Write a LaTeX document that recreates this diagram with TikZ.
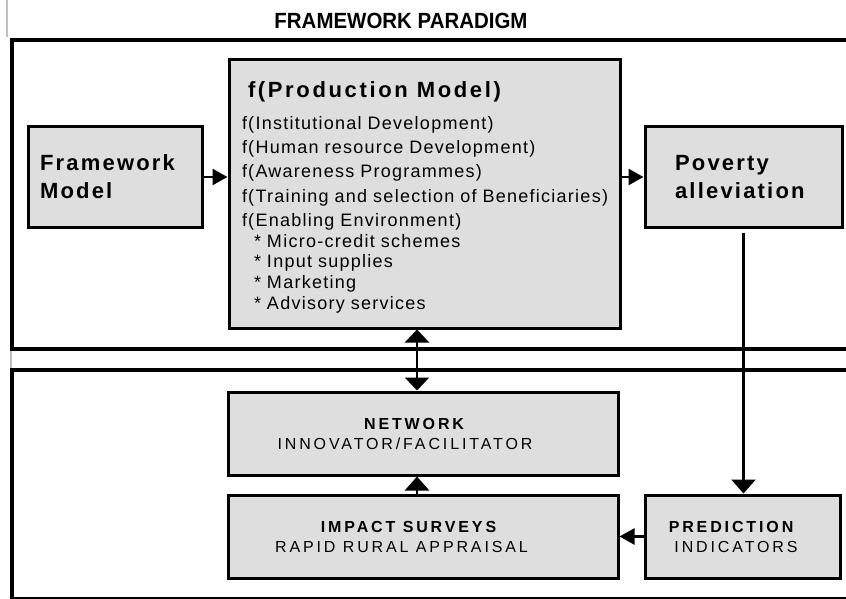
\documentclass[tikz,border=0pt]{standalone}
\usepackage{graphicx}
\usepackage{fontspec}
\setmainfont{Liberation Sans}
\newfontfamily\headfont{Liberation Sans}
\newfontfamily\bodyfont[LetterSpace=7,WordSpace=1.3]{Liberation Sans}
\newfontfamily\titlefont[LetterSpace=12]{Liberation Sans}
\newfontfamily\bigfont[LetterSpace=10,WordSpace=1.3]{Liberation Sans}
\newfontfamily\smallfont[LetterSpace=18]{Liberation Sans}
\usetikzlibrary{arrows.meta,calc}
\definecolor{boxgray}{RGB}{222,222,222}
\begin{document}
\begin{tikzpicture}[x=1pt,y=-1pt,
  box/.style={draw=black, line width=3pt, fill=boxgray, inner sep=0pt},
  frameline/.style={line width=4.5pt},
  conn/.style={line width=2.5pt},
  htip/.style={-{Triangle[length=15pt,width=16pt]}},
  vtip/.style={-{Triangle[length=14pt,width=24pt]}},
  vboth/.style={{Triangle[length=13pt,width=24pt]}-{Triangle[length=13pt,width=24pt]}},
  bodytxt/.style={font=\bodyfont\fontsize{18}{24.25}\selectfont},
  bigtxt/.style={font=\bigfont\bfseries\fontsize{22}{28}\selectfont, align=left},
  lowtxt/.style={font=\smallfont\fontsize{16}{20}\selectfont, align=center}]
\useasboundingbox (0,0) rectangle (846,599);

% page artefacts and frames
\draw[black!25, line width=1.5pt] (7,0) -- (7,37);
\draw[black!25, line width=1.5pt] (11,351) -- (11,368);
\draw[frameline] (846,40) -- (12,40) -- (12,349) -- (846,349);
\draw[frameline] (846,370) -- (12,370) -- (12,598);
\draw[line width=1.5pt] (10,598) -- (846,598);

% title
\node[font=\headfont\bfseries\fontsize{22}{24}\selectfont, inner sep=0pt] (title) at (401,21) {\scalebox{0.93}[1]{FRAMEWORK PARADIGM}};

% upper boxes
\node[box, bigtxt, minimum width=174pt, minimum height=100pt, text width=150pt] (fw) at (115,177) {Framework\\Model};
\node[box, bigtxt, minimum width=197pt, minimum height=100pt, text width=137pt] (pov) at (743.5,177) {Poverty\\alleviation};
\node[box, bodytxt, minimum width=391pt, minimum height=268pt, text width=365pt, align=left] (prod) at (424.5,194)
 {\rule{0pt}{22pt}{\titlefont\bfseries\fontsize{22}{24}\selectfont\hspace*{6pt}f(Production\hspace{9pt}Model)}\\[8pt]
  f(Institutional Development)\\
  f(Human resource Development)\\
  f(Awareness Programmes)\\
  f(Training and selection of Beneficiaries)\\
  f(Enabling Environment)\\[-3.5pt]
  \hspace*{12pt}* Micro-credit schemes\\[-3.5pt]
  \hspace*{12pt}* Input supplies\\[-3.5pt]
  \hspace*{12pt}* Marketing\\[-3.5pt]
  \hspace*{12pt}* Advisory services};

% lower boxes
\node[box, lowtxt, minimum width=390pt, minimum height=83pt] (net) at (423,433.5)
 {\textbf{NETWORK}\hspace*{15pt}\\INNOVATOR/FACILITATOR\hspace*{36pt}};
\node[box, lowtxt, minimum width=390pt, minimum height=83pt] (imp) at (423,536.5)
 {\textbf{IMPACT SURVEYS}\hspace*{26pt}\\RAPID RURAL APPRAISAL\hspace*{43pt}};
\node[box, lowtxt, minimum width=195pt, minimum height=83pt] (pred) at (742.5,536.5)
 {\textbf{PREDICTION}\hspace*{20pt}\\INDICATORS\hspace*{13pt}};

% connectors
\coordinate (cx) at (417,0);
\draw[conn, htip] (fw.east) -- (prod.west |- fw.east);
\draw[conn, htip] (prod.east |- pov.west) -- (pov.west);
\draw[conn, vboth] (prod.south -| cx) -- (net.north -| cx);
\draw[conn, vtip] (imp.north -| cx) -- (net.south -| cx);
\draw[conn, vtip, shorten <=4pt] (pov.south) -- (pred.north -| pov.south);
\draw[conn, htip] (pred.west) -- (imp.east);
\end{tikzpicture}
\end{document}
